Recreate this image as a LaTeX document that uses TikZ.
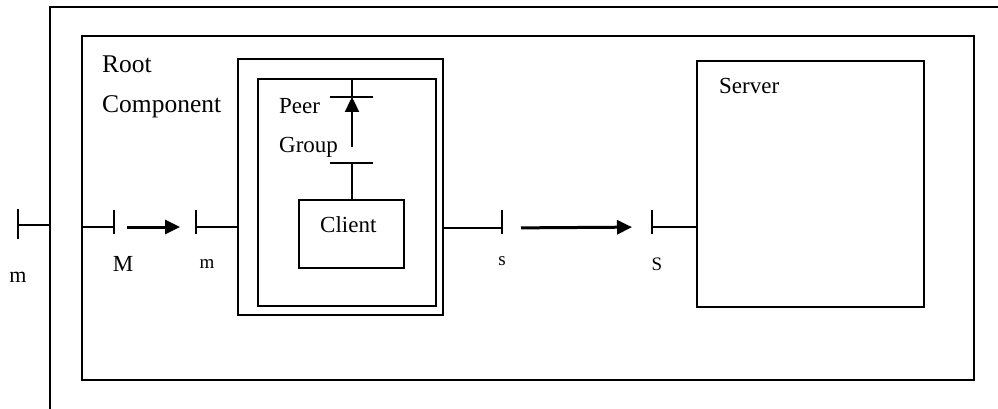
\documentclass[tikz,border=0pt]{standalone}
\usepackage{fontspec}
\setmainfont{Liberation Serif}
\usetikzlibrary{arrows.meta}
\begin{document}
\begin{tikzpicture}[x=1pt,y=-1pt,
  box/.style={draw,line width=2.2pt,rectangle,inner sep=0pt,outer sep=0pt,anchor=north west},
  conn/.style={line width=1.5pt},
  bar/.style={line width=1.9pt},
  flow/.style={line width=3pt,-{Triangle[length=15pt,width=14pt]}},
  txt/.style={font=\fontsize{23}{27}\selectfont,inner sep=0pt,anchor=base west},
  lbl/.style={inner sep=0pt,anchor=base,font=\fontsize{19}{23}\selectfont}
]
\useasboundingbox (0,0) rectangle (998,409);
\clip (0,0) rectangle (998,409);

% boxes
\node[box,minimum width=1000pt,minimum height=450pt] (sys) at (50,7) {};
\node[box,minimum width=892pt,minimum height=344pt] (root) at (82,36) {};
\node[box,minimum width=205pt,minimum height=256pt] (grp) at (238,59) {};
\node[box,minimum width=178pt,minimum height=227pt] (inner) at (258,79) {};
\node[box,minimum width=105pt,minimum height=68pt] (client) at (299,200) {};
\node[box,minimum width=227pt,minimum height=246pt] (srv) at (697,61) {};

% texts
\node[txt,font=\fontsize{25.5}{30}\selectfont] (troot) at (102,73) {Root};
\node[txt,font=\fontsize{25.5}{30}\selectfont] (tcomp) at (102,113) {Component};
\node[txt] (tpeer) at (279,113.5) {Peer};
\node[txt] (tgroup) at (279,152) {Group};
\node[txt] (tclient) at (320,232.5) {Client};
\node[txt] (tserver) at (719,94) {Server};

% ports
\coordinate (pout) at (18,225);
\coordinate (pM) at (114,227);
\coordinate (pm) at (196,227);
\coordinate (ps) at (502,228);
\coordinate (pS) at (652,227);
\coordinate (pg1) at (352,97);
\coordinate (pg2) at (352,163);

\draw[bar] (pout) ++(0,-16) -- ++(0,30);
\draw[bar] (pM) ++(0,-17) -- ++(0,24);
\draw[bar] (pm) ++(0,-17) -- ++(0,24);
\draw[bar] (ps) ++(0,-18) -- ++(0,24);
\draw[bar] (pS) ++(0,-17) -- ++(0,24);
\draw[bar] (pg1) ++(-22,0) -- ++(43,0);
\draw[bar] (pg2) ++(-22,0) -- ++(43,0);

% port labels
\node[lbl,font=\fontsize{22}{26}\selectfont] (lout) at (18,282) {m};
\node[lbl,font=\fontsize{23}{27}\selectfont] (lM) at (123,271) {M};
\node[lbl] (lm) at (207,268) {m};
\node[lbl] (ls) at (502,265) {s};
\node[lbl] (lS) at (657,270) {S};

% connectors
\draw[conn] (pout) -- (pout -| sys.west);
\draw[conn] (pM -| root.west) -- (pM);
\draw[flow,shorten <=13pt,shorten >=16pt] (pM) -- (pm);
\draw[conn] (pm) -- (pm -| grp.west);
\draw[conn] (ps -| grp.east) -- (ps);
\draw[flow,shorten <=19pt,shorten >=20pt] (ps) -- (pS);
\draw[conn] (pS) -- (pS -| srv.west);
\draw[conn] (pg1 |- inner.north) -- (pg1);
\draw[flow,line width=2.4pt,shorten <=16pt] (pg2) -- (pg1);
\draw[conn] (pg2) -- (pg2 |- client.north);
\end{tikzpicture}
\end{document}
